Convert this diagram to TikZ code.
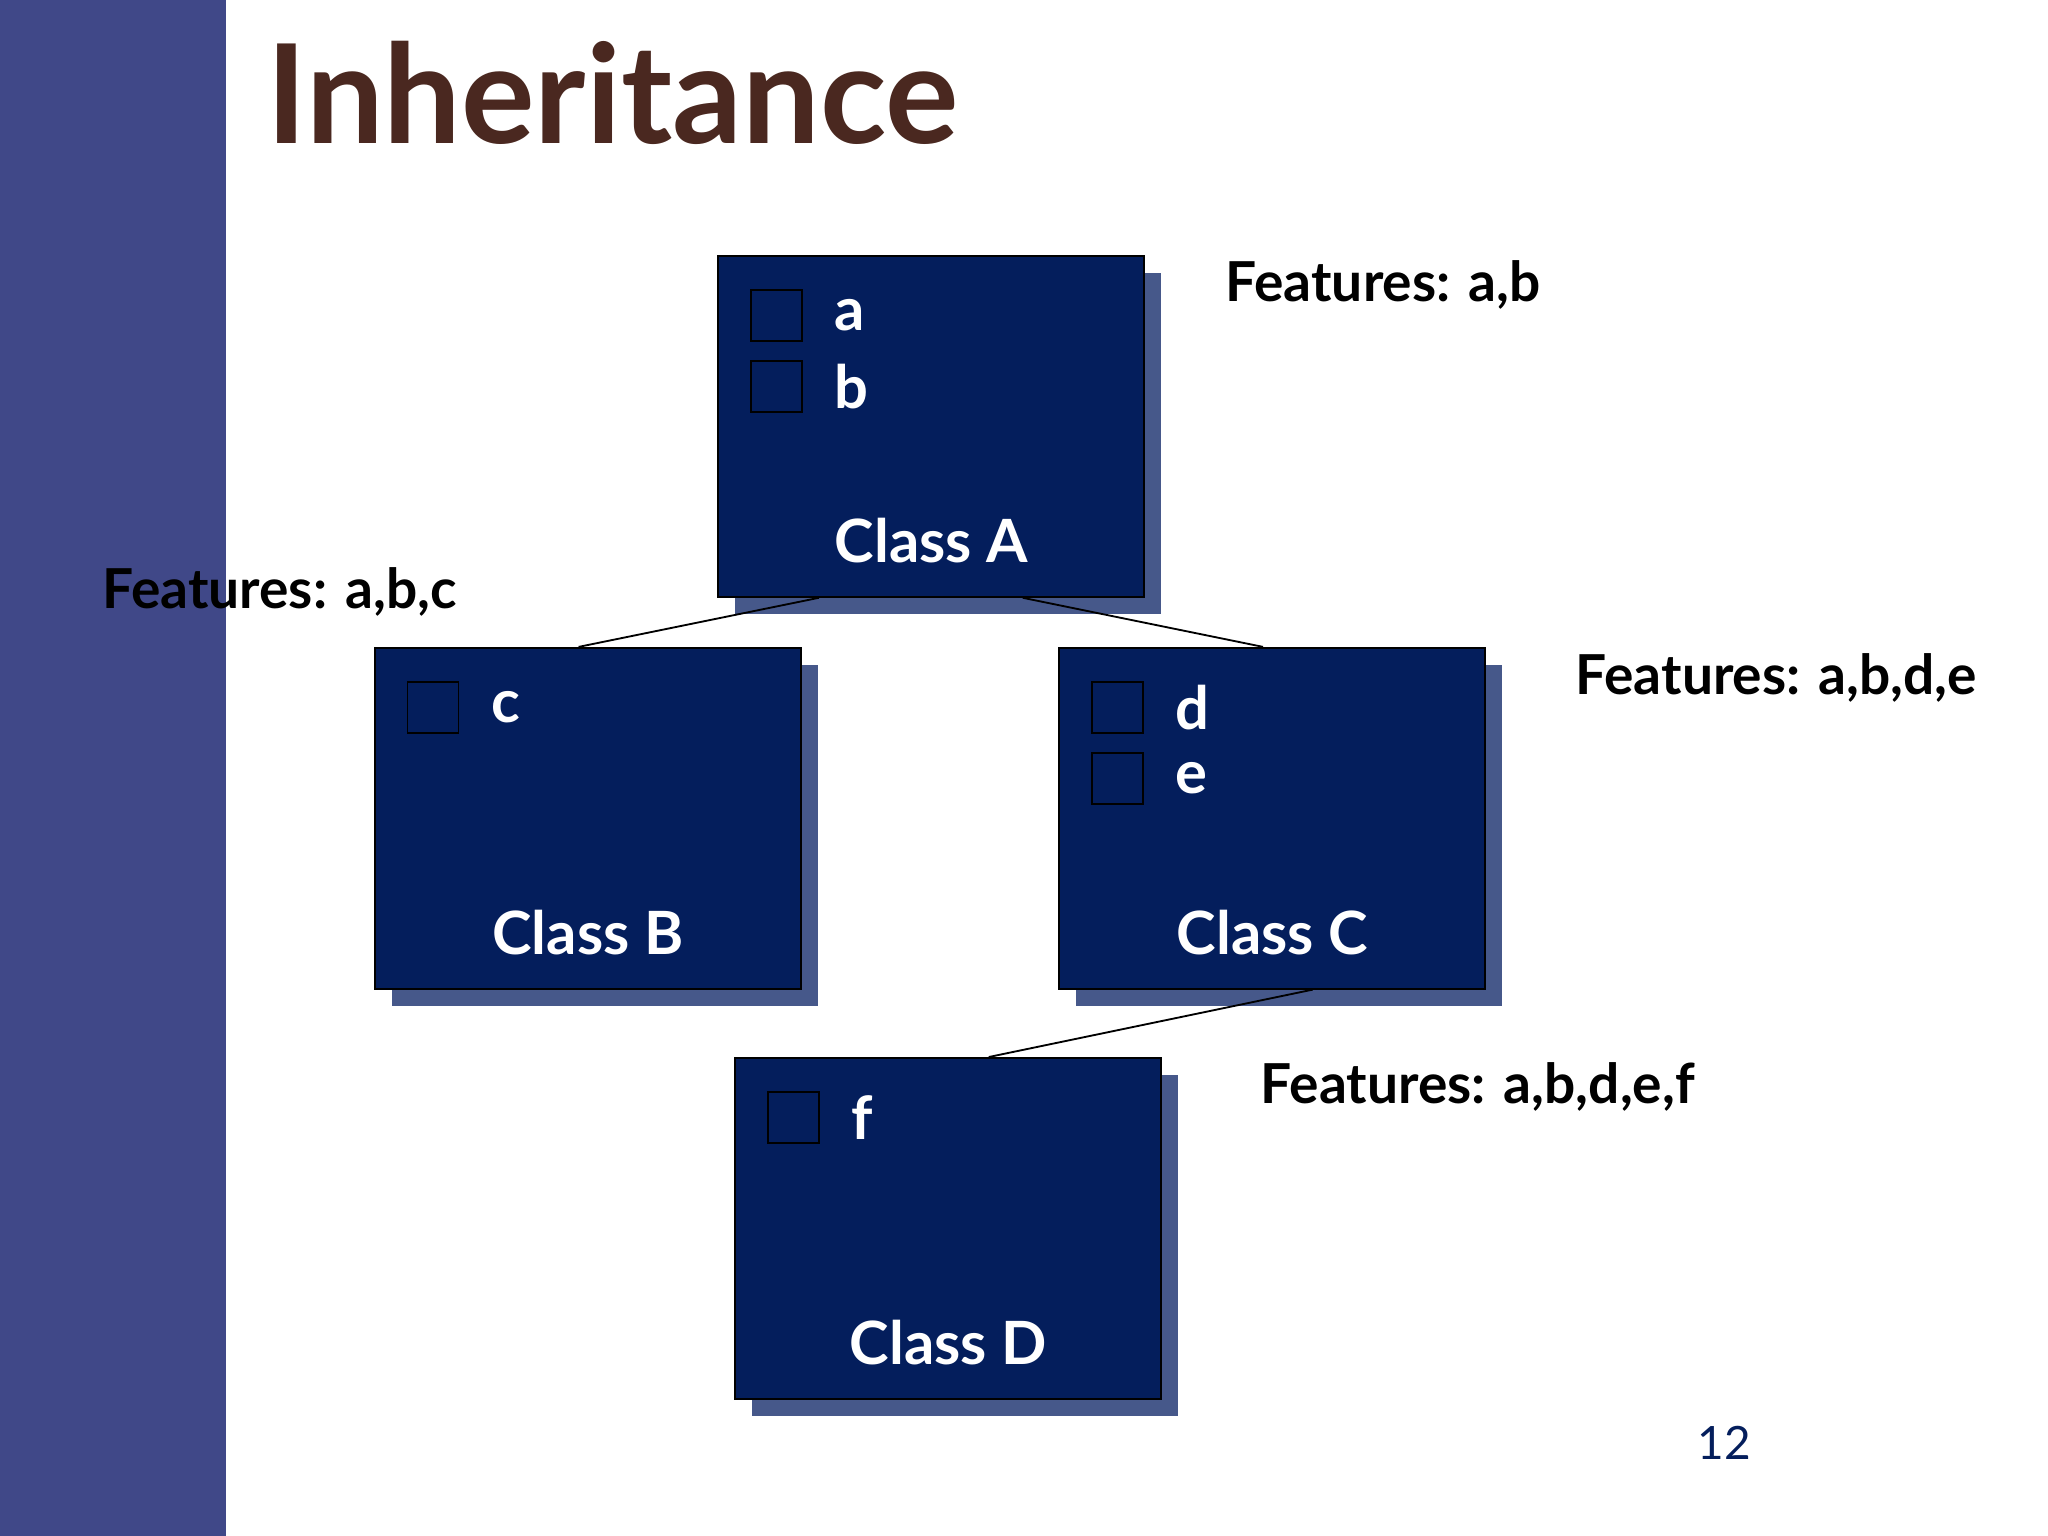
\documentclass[tikz,border=0pt]{standalone}
\usepackage{fontspec}
\setmainfont{Lato}
\usetikzlibrary{positioning}
\definecolor{barblue}{HTML}{404888}
\definecolor{boxblue}{HTML}{041E5C}
\definecolor{shadowblue}{HTML}{46588A}
\definecolor{titlebrown}{HTML}{4A2820}

\begin{document}
\begin{tikzpicture}[
    every node/.style={font=\bfseries}, % Schrift
    classbox/.style={draw=black, fill=boxblue, minimum width=3.26cm, minimum height=2.61cm, inner sep=0pt}, % Klassen
    shadowbox/.style={fill=shadowblue, minimum width=3.26cm, minimum height=2.61cm, inner sep=0pt}, % Schatten
    featbox/.style={draw=black, fill=boxblue, minimum size=0.39cm, inner sep=0pt}, % Kaestchen
    featlabel/.style={text=white, font=\bfseries\fontsize{13}{15}\selectfont, right=0.12cm}, % Buchstaben
    classlabel/.style={text=white, font=\bfseries\fontsize{13}{15}\selectfont}, % Klassenname
    featurenote/.style={anchor=west, font=\bfseries\fontsize{12}{14}\selectfont} % Features
]
\useasboundingbox (0,0) rectangle (15.68,11.76);
\fill[barblue] (0,0) rectangle (1.73,11.76);
\node[anchor=base west, text=titlebrown, font=\bfseries\fontsize{30}{34}\selectfont, inner sep=0pt] (title) at (2.03,10.66) {Inheritance};

% Schatten
\node[shadowbox] at (7.26,8.365) {};
\node[shadowbox] at (4.63,5.365) {};
\node[shadowbox] at (9.87,5.365) {};
\node[shadowbox] at (7.39,2.225) {};

% Klassen
\node[classbox] (clA) at (7.13,8.495) {};
\node[classbox] (clB) at (4.50,5.495) {};
\node[classbox] (clC) at (9.74,5.495) {};
\node[classbox] (clD) at (7.26,2.355) {};

% Verbindungslinien
\draw ([xshift=-0.86cm]clA.south) -- ([xshift=-0.07cm]clB.north);
\draw ([xshift=0.70cm]clA.south) -- ([xshift=-0.07cm]clC.north);
\draw ([xshift=0.31cm]clC.south) -- ([xshift=0.31cm]clD.north);

\node[classlabel] at ([yshift=0.44cm]clA.south) {Class A};
\node[classlabel] at ([yshift=0.44cm]clB.south) {Class B};
\node[classlabel] at ([yshift=0.44cm]clC.south) {Class C};
\node[classlabel] at ([yshift=0.44cm]clD.south) {Class D};

% Features in den Klassen
\node[featbox, anchor=north west] (fa) at ([shift={(0.25,-0.26)}]clA.north west) {};
\node[featlabel] at (fa.east) {a};
\node[featbox, below=0.14cm of fa] (fb) {};
\node[featlabel] at (fb.east) {b};
\node[featbox, anchor=north west] (fc) at ([shift={(0.25,-0.26)}]clB.north west) {};
\node[featlabel] at (fc.east) {c};
\node[featbox, anchor=north west] (fd) at ([shift={(0.25,-0.26)}]clC.north west) {};
\node[featlabel] at (fd.east) {d};
\node[featbox, below=0.14cm of fd] (fe) {};
\node[featlabel] at (fe.east) {e};
\node[featbox, anchor=north west] (ff) at ([shift={(0.25,-0.26)}]clD.north west) {};
\node[featlabel] at (ff.east) {f};

% Beschriftungen
\node[featurenote] (noteA) at (9.26,9.58) {Features: a,b};
\node[featurenote] (noteB) at (0.66,7.23) {Features: a,b,c};
\node[featurenote] (noteC) at (11.94,6.57) {Features: a,b,d,e};
\node[featurenote] (noteD) at (9.53,3.44) {Features: a,b,d,e,f};
\node[text=boxblue, font=\fontsize{10}{12}\selectfont] (page) at (13.20,0.71) {12};
\end{tikzpicture}
\end{document}
